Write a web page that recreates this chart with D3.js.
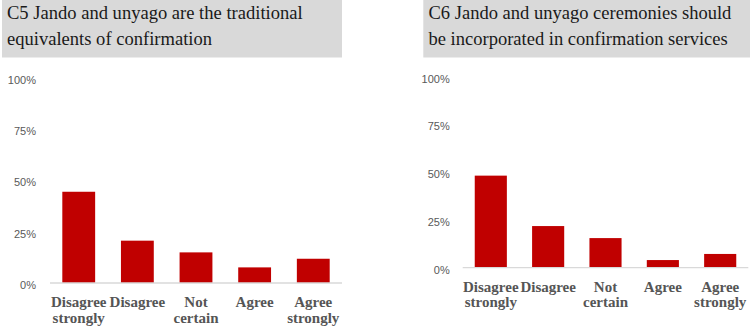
<!DOCTYPE html>
<html>
<head>
<meta charset="utf-8">
<script src="https://cdn.jsdelivr.net/npm/d3@7"></script>
<style>
  html, body { margin: 0; padding: 0; background: #fff; }
  svg { display: block; }
</style>
</head>
<body>
<svg id="chart" width="750" height="334"></svg>
<script>
const categories = ["Disagree strongly", "Disagree", "Not certain", "Agree", "Agree strongly"];
const categoryLines = [["Disagree", "strongly"], ["Disagree"], ["Not", "certain"], ["Agree"], ["Agree", "strongly"]];
const valuesC5 = [44.4, 20.6, 14.9, 7.6, 11.8];
const valuesC6 = [48.2, 21.8, 15.5, 4.0, 7.2];
const tickValues = [0, 25, 50, 75, 100];
const tickLabels = ["0%", "25%", "50%", "75%", "100%"];
const titleC5 = ["C5 Jando and unyago are the traditional", "equivalents of confirmation"];
const titleC6 = ["C6 Jando and unyago ceremonies should", "be incorporated in confirmation services"];

const svg = d3.select("#chart");

const panels = [
  { title: titleC5, values: valuesC5,
    box: [2, 0, 340, 57.5], textX: 7, lineW: 296,
    x0: 50, x1: 342, y0: 283, y1: 77.5, labelX: 36 },
  { title: titleC6, values: valuesC6,
    box: [423.3, 0, 330, 57.5], textX: 428.5, lineW: 303,
    x0: 462.7, x1: 748.3, y0: 267.7, y1: 76.7, labelX: 449.7 }
];

panels.forEach(p => {
  const g = svg.append("g");
  // title box
  g.append("rect")
    .attr("x", p.box[0]).attr("y", p.box[1])
    .attr("width", p.box[2]).attr("height", p.box[3])
    .attr("fill", "#d9d9d9");
  const t = g.append("text")
    .attr("font-family", "'Liberation Serif', 'DejaVu Serif', serif")
    .attr("font-size", 20)
    .attr("fill", "#1a1a1a");
  const l1 = t.append("tspan").attr("x", p.textX).attr("y", 18.5).text(p.title[0]);
  t.append("tspan").attr("x", p.textX).attr("y", 44.5).text(p.title[1]);
  // fit font size to target line width
  const w = l1.node().getComputedTextLength();
  t.attr("font-size", 20 * p.lineW / w);

  const x = d3.scaleBand()
    .domain(categories)
    .range([p.x0, p.x1])
    .paddingInner(0.44)
    .paddingOuter(0.21);
  const y = d3.scaleLinear().domain([0, 100]).range([p.y0, p.y1]);

  // y tick labels
  const yAxis = d3.axisLeft(y)
    .tickValues(tickValues)
    .tickFormat((d, i) => tickLabels[i])
    .tickSize(0).tickPadding(0);
  const ya = g.append("g")
    .attr("transform", `translate(${p.labelX},2)`)
    .call(yAxis);
  ya.select(".domain").remove();
  ya.selectAll("text")
    .attr("font-family", "'Liberation Sans', Arial, sans-serif")
    .attr("font-size", 11)
    .attr("fill", "#595959");

  // bars
  g.selectAll("rect.bar")
    .data(p.values)
    .join("rect")
    .attr("class", "bar")
    .attr("x", (d, i) => x(categories[i]))
    .attr("width", x.bandwidth())
    .attr("y", d => y(d))
    .attr("height", d => y(0) - y(d))
    .attr("fill", "#c00000");

  // baseline
  g.append("line")
    .attr("x1", p.x0).attr("x2", p.x1)
    .attr("y1", y(0)).attr("y2", y(0))
    .attr("stroke", "#d9d9d9").attr("stroke-width", 1.3);

  // category labels
  const xa = g.append("g");
  categories.forEach((c, i) => {
    const cx = x(c) + x.bandwidth() / 2;
    const tx = xa.append("text")
      .attr("text-anchor", "middle")
      .attr("font-family", "'Liberation Serif', 'DejaVu Serif', serif")
      .attr("font-weight", "bold")
      .attr("font-size", 15)
      .attr("fill", "#555555");
    categoryLines[i].forEach((ln, j) => {
      tx.append("tspan").attr("x", cx).attr("y", y(0) + 24 + j * 15.5).text(ln);
    });
  });
});
</script>
</body>
</html>
